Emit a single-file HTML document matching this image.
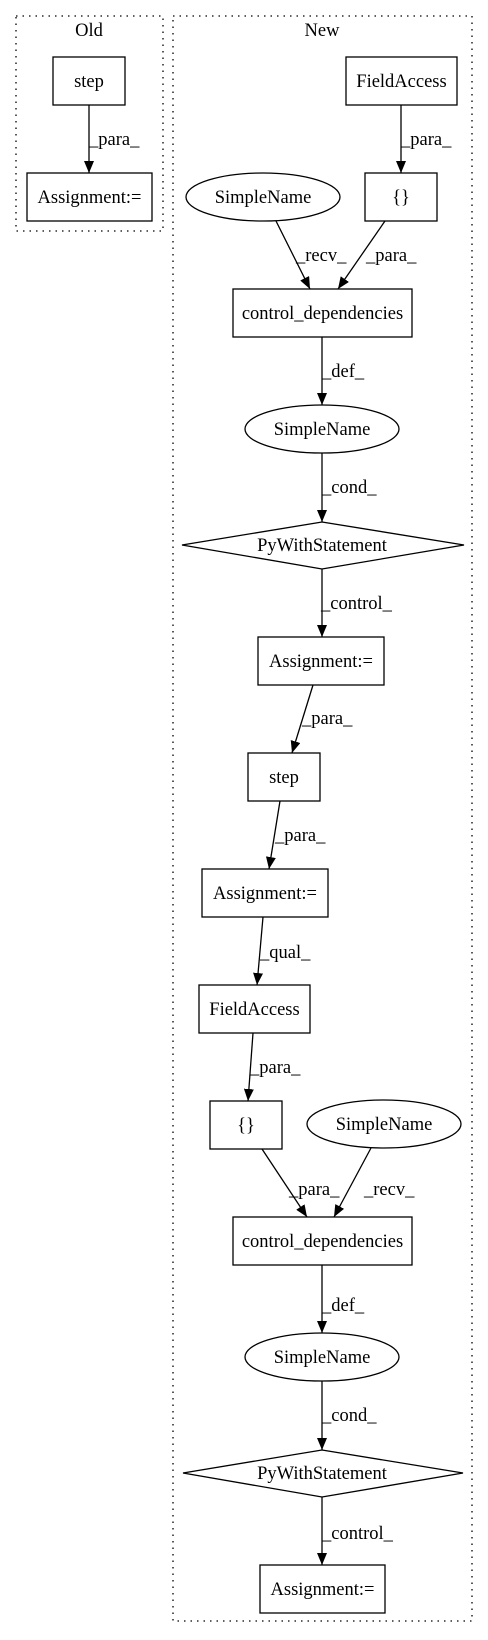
<!DOCTYPE html>
<html><head><meta charset="utf-8"><style>
html,body{margin:0;padding:0;background:#fff;}
svg{display:block;}
text{font-family:"Liberation Serif",serif;font-size:18.5px;fill:#000;}
.l{font-size:18.5px;}
</style></head><body>
<svg width="488" height="1640" viewBox="0 0 488 1640" xmlns="http://www.w3.org/2000/svg">
<defs><marker id="a" markerWidth="12" markerHeight="10" refX="12" refY="5" orient="auto" markerUnits="userSpaceOnUse"><polygon points="0,0 12,5 0,10" fill="#000"/></marker></defs>
<g fill="none" stroke="#000" stroke-width="1.3" stroke-dasharray="1.5,5">
<rect x="16" y="16" width="147" height="215"/>
<rect x="173" y="16" width="299" height="1605"/>
</g>
<text x="89" y="36" text-anchor="middle">Old</text>
<text x="322" y="36" text-anchor="middle">New</text>
<g fill="none" stroke="#000" stroke-width="1.3">
<rect x="53" y="57" width="72" height="48"/>
<rect x="27" y="173" width="125" height="48"/>
<rect x="346" y="57" width="111" height="48"/>
<rect x="365" y="173" width="72" height="48"/>
<ellipse cx="263" cy="197" rx="77" ry="24"/>
<rect x="233" y="289" width="179" height="48"/>
<ellipse cx="322" cy="429" rx="77" ry="24"/>
<polygon points="322,522 464,545 322,569 182,545"/>
<rect x="258" y="637" width="126" height="48"/>
<rect x="248" y="753" width="72" height="48"/>
<rect x="202" y="869" width="126" height="48"/>
<rect x="199" y="985" width="111" height="48"/>
<rect x="210" y="1101" width="72" height="48"/>
<ellipse cx="384" cy="1124" rx="77" ry="24"/>
<rect x="233" y="1217" width="179" height="48"/>
<ellipse cx="322" cy="1357" rx="77" ry="24"/>
<polygon points="322,1450 463,1473 322,1497 183,1473"/>
<rect x="260" y="1565" width="125" height="48"/>
</g>
<g stroke="#000" stroke-width="1.3" marker-end="url(#a)">
<line x1="89" y1="105" x2="89" y2="173"/>
<line x1="401" y1="105" x2="401" y2="173"/>
<line x1="276" y1="221" x2="310" y2="289"/>
<line x1="385" y1="221" x2="338" y2="289"/>
<line x1="322" y1="337" x2="322" y2="405"/>
<line x1="322" y1="453" x2="322" y2="522"/>
<line x1="322" y1="569" x2="322" y2="637"/>
<line x1="313" y1="685" x2="292" y2="753"/>
<line x1="280" y1="801" x2="269" y2="869"/>
<line x1="263" y1="917" x2="257" y2="985"/>
<line x1="253" y1="1033" x2="248" y2="1101"/>
<line x1="262" y1="1149" x2="307" y2="1217"/>
<line x1="371" y1="1148" x2="334" y2="1217"/>
<line x1="322" y1="1265" x2="322" y2="1333"/>
<line x1="322" y1="1381" x2="322" y2="1450"/>
<line x1="322" y1="1497" x2="322" y2="1565"/>
</g>
<g text-anchor="middle">
<text x="89" y="87">step</text>
<text x="89.5" y="203">Assignment:=</text>
<text x="401.5" y="87">FieldAccess</text>
<text x="401" y="203">{}</text>
<text x="263" y="203">SimpleName</text>
<text x="322.5" y="319">control_dependencies</text>
<text x="322" y="435">SimpleName</text>
<text x="322" y="551">PyWithStatement</text>
<text x="321" y="667">Assignment:=</text>
<text x="284" y="783">step</text>
<text x="265" y="899">Assignment:=</text>
<text x="254.5" y="1015">FieldAccess</text>
<text x="246" y="1131">{}</text>
<text x="384" y="1130">SimpleName</text>
<text x="322.5" y="1247">control_dependencies</text>
<text x="322" y="1363">SimpleName</text>
<text x="322" y="1479">PyWithStatement</text>
<text x="322.5" y="1595">Assignment:=</text>
</g>
<g class="l">
<text x="89" y="145">_para_</text>
<text x="401" y="145">_para_</text>
<text x="296" y="261">_recv_</text>
<text x="366" y="261">_para_</text>
<text x="322" y="377">_def_</text>
<text x="322" y="493">_cond_</text>
<text x="321" y="609">_control_</text>
<text x="302" y="724">_para_</text>
<text x="275" y="841">_para_</text>
<text x="260" y="958">_qual_</text>
<text x="250" y="1073">_para_</text>
<text x="289" y="1195">_para_</text>
<text x="364" y="1195">_recv_</text>
<text x="322" y="1311">_def_</text>
<text x="322" y="1421">_cond_</text>
<text x="322" y="1539">_control_</text>
</g>
</svg>
</body></html>
